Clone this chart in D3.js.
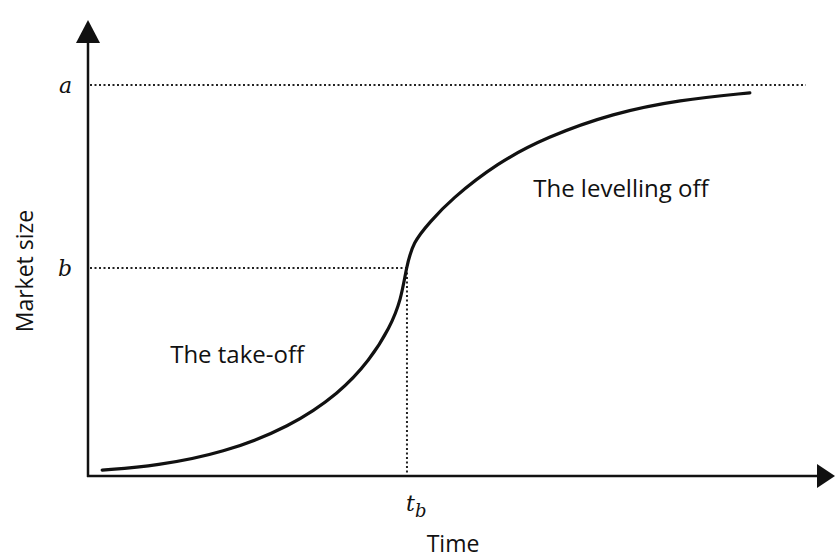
<!DOCTYPE html>
<html lang="en">
<head>
<meta charset="utf-8">
<title>Market size over time</title>
<script src="https://cdn.jsdelivr.net/npm/d3@7"></script>
<style>
  body { margin: 0; background: #fff; overflow: hidden; }
  text { font-family: "Open Sans", sans-serif; fill: #111; }
  .tick text { font-family: "DejaVu Serif", serif; font-style: italic; font-size: 22px; }
  .tick line { display: none; }
  .region-label { font-size: 24px; }
  .axis-label { font-size: 23px; }
  .guide { stroke: #222; stroke-width: 2; stroke-dasharray: 2,2.5; fill: none; }
  .curve { fill: none; stroke: #111; stroke-width: 3.2; stroke-linecap: round; }
</style>
</head>
<body>
<script>
// time (0-100) and market size (share of a)
const curveTime = [1.9, 9.2, 18.1, 27.0, 33.7, 37.75, 40.4, 41.9, 42.6, 43.5, 45.8, 48.5, 54.8, 61.4, 70.3, 79.2, 88.6];
const curveSize = [0.015, 0.026, 0.059, 0.125, 0.212, 0.297, 0.379, 0.450, 0.532, 0.598, 0.650, 0.706, 0.801, 0.867, 0.928, 0.962, 0.980];

const levelValues = [1, 0.532];      // a, b
const levelLabels = ["a", "b"];
const breakTime = 42.7;              // t_b
const regionLabels = ["The take-off", "The levelling off"];
const regionPos = [[11, 0.289], [59.6, 0.713]];   // [time, size] where each label starts

const width = 836, height = 558;
const x0 = 88, y0 = 476;

const xScale = d3.scaleLinear().domain([0, 100]).range([x0, 835]);
const yScale = d3.scaleLinear().domain([0, 1]).range([y0, 85]);

const svg = d3.select("body").append("svg")
  .attr("width", width)
  .attr("height", height);

// dotted guide lines
svg.append("line").attr("class", "guide")
  .attr("x1", x0 + 2).attr("x2", xScale(96.1))
  .attr("y1", yScale(levelValues[0])).attr("y2", yScale(levelValues[0]));
svg.append("line").attr("class", "guide")
  .attr("x1", x0 + 2).attr("x2", xScale(breakTime))
  .attr("y1", yScale(levelValues[1])).attr("y2", yScale(levelValues[1]));
svg.append("line").attr("class", "guide")
  .attr("x1", xScale(breakTime)).attr("x2", xScale(breakTime))
  .attr("y1", yScale(levelValues[1])).attr("y2", y0);

// axes with arrow heads
svg.append("line").attr("x1", x0).attr("x2", x0).attr("y1", 40).attr("y2", y0 + 1)
  .attr("stroke", "#111").attr("stroke-width", 2.5);
svg.append("line").attr("x1", x0 - 1).attr("x2", 820).attr("y1", y0).attr("y2", y0)
  .attr("stroke", "#111").attr("stroke-width", 2.5);
svg.append("path").attr("d", `M${x0},20 L${x0 - 12},43 L${x0 + 12},43 Z`).attr("fill", "#111");
svg.append("path").attr("d", `M835,${y0} L817,${y0 - 12} L817,${y0 + 12} Z`).attr("fill", "#111");

const yAxis = d3.axisLeft(yScale)
  .tickValues(levelValues)
  .tickFormat((d, i) => levelLabels[i])
  .tickSize(0)
  .tickPadding(16);
const yAxisG = svg.append("g").attr("transform", `translate(${x0},0)`).call(yAxis);
yAxisG.select(".domain").remove();
yAxisG.selectAll(".tick text").attr("font-size", null).attr("font-family", null);

const xAxis = d3.axisBottom(xScale)
  .tickValues([breakTime])
  .tickFormat(() => "")
  .tickSize(0)
  .tickPadding(12);
const xAxisG = svg.append("g").attr("transform", `translate(0,${y0})`).call(xAxis);
xAxisG.select(".domain").remove();
const tb = xAxisG.select(".tick text").attr("font-size", null).attr("font-family", null)
  .attr("dy", "1.05em").attr("dx", "0.4em");
tb.append("tspan").text("t");
tb.append("tspan").text("b").attr("font-size", "18px").attr("dy", "0.3em");

// the S curve
const line = d3.line()
  .x((d, i) => xScale(curveTime[i]))
  .y((d, i) => yScale(curveSize[i]))
  .curve(d3.curveBasis);
svg.append("path").attr("class", "curve").attr("d", line(curveTime));

// region labels
svg.selectAll(".region-label")
  .data(regionLabels)
  .enter().append("text")
  .attr("class", "region-label")
  .attr("x", (d, i) => xScale(regionPos[i][0]))
  .attr("y", (d, i) => yScale(regionPos[i][1]))
  .text(d => d);

// axis titles
svg.append("text").attr("class", "axis-label")
  .attr("x", 453).attr("y", 552)
  .attr("text-anchor", "middle")
  .text("Time");
svg.append("text").attr("class", "axis-label")
  .attr("transform", "translate(33,271) rotate(-90)")
  .attr("text-anchor", "middle")
  .text("Market size");
</script>
</body>
</html>
